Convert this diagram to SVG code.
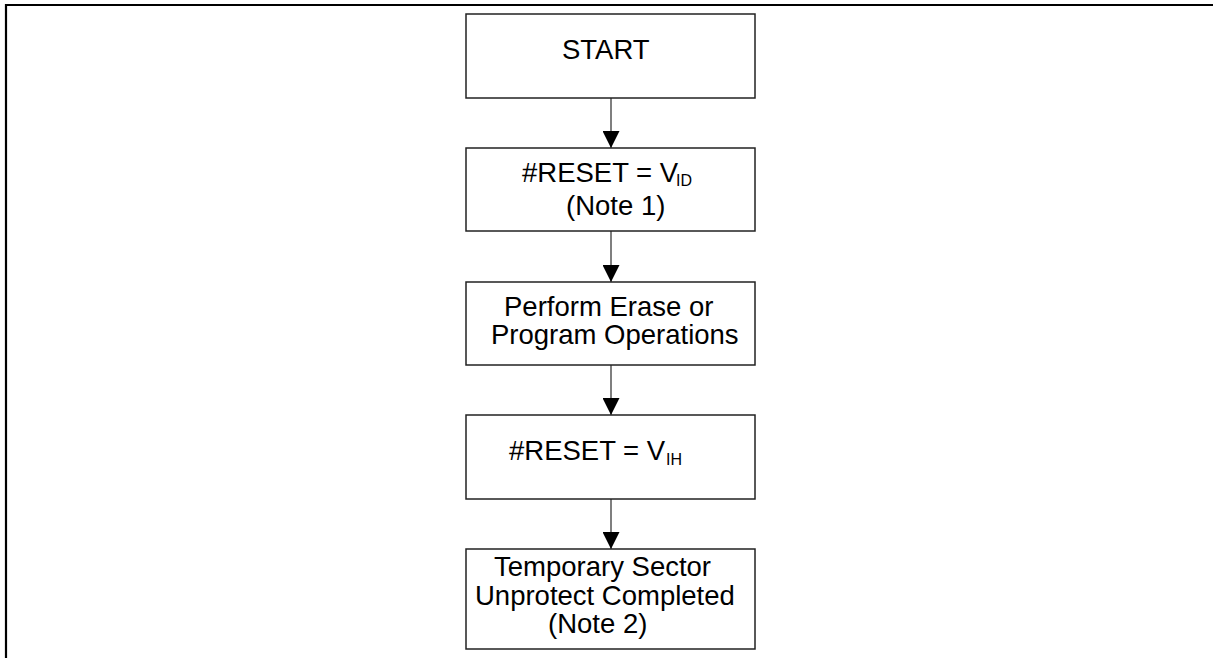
<svg xmlns="http://www.w3.org/2000/svg" width="1213" height="658" viewBox="0 0 1213 658">
<style>
.box{fill:#fff;stroke:#222;stroke-width:1.5}
.t{font-family:"Liberation Sans",Arial,sans-serif;font-size:27.5px;fill:#000}
.s{font-family:"Liberation Sans",Arial,sans-serif;font-size:16px;fill:#000}
.c{stroke:#555;stroke-width:1.5;fill:none}
</style>
<defs>
<marker id="ah" markerUnits="userSpaceOnUse" markerWidth="17" markerHeight="17" refX="17" refY="8.5" orient="auto" viewBox="0 0 17 17">
<polygon points="0,0 17,8.5 0,17" fill="#000"/>
</marker>
</defs>
<rect width="1213" height="658" fill="#fff"/>
<path d="M6,658 V5 H1213" stroke="#000" stroke-width="2.2" fill="none"/>
<g id="connectors">
<line class="c" x1="611" y1="98" x2="611" y2="148" marker-end="url(#ah)"/>
<line class="c" x1="611" y1="231" x2="611" y2="282" marker-end="url(#ah)"/>
<line class="c" x1="611" y1="365" x2="611" y2="415" marker-end="url(#ah)"/>
<line class="c" x1="611" y1="499" x2="611" y2="549" marker-end="url(#ah)"/>
</g>
<g id="start">
<rect class="box" x="466" y="14" width="289" height="84"/>
<text class="t" x="562" y="59">START</text>
</g>
<g id="reset-vid">
<rect class="box" x="466" y="148" width="289" height="83"/>
<text class="t" x="522" y="182">#RESET = V</text>
<text class="s" x="676" y="186">ID</text>
<text class="t" x="566" y="215">(Note 1)</text>
</g>
<g id="perform">
<rect class="box" x="466" y="282" width="289" height="83"/>
<text class="t" x="504" y="316">Perform Erase or</text>
<text class="t" x="491" y="344">Program Operations</text>
</g>
<g id="reset-vih">
<rect class="box" x="466" y="415" width="289" height="84"/>
<text class="t" x="509" y="460">#RESET = V</text>
<text class="s" x="666" y="465">IH</text>
</g>
<g id="completed">
<rect class="box" x="466" y="549" width="289" height="100"/>
<text class="t" x="494" y="576">Temporary Sector</text>
<text class="t" x="475" y="605">Unprotect Completed</text>
<text class="t" x="548" y="633">(Note 2)</text>
</g>
</svg>
